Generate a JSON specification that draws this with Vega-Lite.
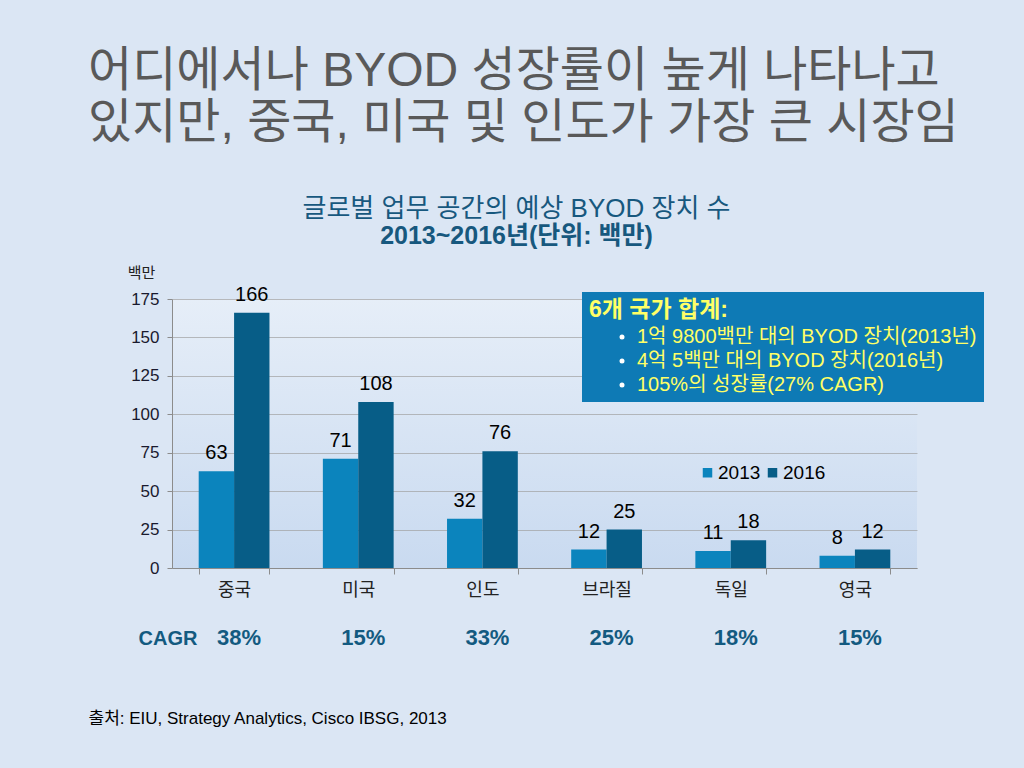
{
  "$schema": "https://vega.github.io/schema/vega-lite/v6.json",
  "padding": {"left": 88, "top": 48, "right": 69, "bottom": 44},
  "background": "#dbe6f4",
  "config": {
    "font": "Liberation Sans, Noto Sans CJK KR",
    "view": {"stroke": null},
    "concat": {"spacing": 24}
  },
  "datasets": {
    "bars": [
      {"country": "중국", "year": "2013", "value": 63},
      {"country": "중국", "year": "2016", "value": 166},
      {"country": "미국", "year": "2013", "value": 71},
      {"country": "미국", "year": "2016", "value": 108},
      {"country": "인도", "year": "2013", "value": 32},
      {"country": "인도", "year": "2016", "value": 76},
      {"country": "브라질", "year": "2013", "value": 12},
      {"country": "브라질", "year": "2016", "value": 25},
      {"country": "독일", "year": "2013", "value": 11},
      {"country": "독일", "year": "2016", "value": 18},
      {"country": "영국", "year": "2013", "value": 8},
      {"country": "영국", "year": "2016", "value": 12}
    ],
    "cagr": [
      {"row": "CAGR", "country": "중국", "cagr": "38%"},
      {"row": "CAGR", "country": "미국", "cagr": "15%"},
      {"row": "CAGR", "country": "인도", "cagr": "33%"},
      {"row": "CAGR", "country": "브라질", "cagr": "25%"},
      {"row": "CAGR", "country": "독일", "cagr": "18%"},
      {"row": "CAGR", "country": "영국", "cagr": "15%"}
    ],
    "notes": [
      {"note": "1억 9800백만 대의 BYOD 장치(2013년)"},
      {"note": "4억 5백만 대의 BYOD 장치(2016년)"},
      {"note": "105%의 성장률(27% CAGR)"}
    ]
  },
  "title": {
    "text": ["어디에서나 BYOD 성장률이 높게 나타나고", "있지만, 중국, 미국 및 인도가 가장 큰 시장임"],
    "anchor": "start",
    "frame": "group",
    "fontSize": 48,
    "fontWeight": "normal",
    "color": "#595959",
    "lineHeight": 52,
    "dx": -84,
    "offset": 48
  },
  "vconcat": [
    {
      "width": 745,
      "height": 269,
      "view": {
        "stroke": null,
        "fill": {"gradient": "linear", "x1": 0, "y1": 0, "x2": 0, "y2": 1,
          "stops": [{"offset": 0, "color": "#e6eef8"}, {"offset": 1, "color": "#c9daf0"}]}
      },
      "title": {
        "text": "글로벌 업무 공간의 예상 BYOD 장치 수",
        "subtitle": "2013~2016년(단위: 백만)",
        "anchor": "middle",
        "dx": -28,
        "fontSize": 26,
        "fontWeight": "normal",
        "color": "#17587e",
        "subtitleFontSize": 25,
        "subtitleFontWeight": "bold",
        "subtitleColor": "#17587e",
        "subtitlePadding": 2,
        "offset": 16
      },
      "layer": [
        {
          "data": {"name": "bars"},
          "mark": {"type": "bar"},
          "encoding": {
            "x": {
              "field": "country", "type": "nominal",
              "sort": ["중국", "미국", "인도", "브라질", "독일", "영국"],
              "scale": {"paddingInner": 0.43, "paddingOuter": 0.215},
              "axis": {
                "title": null, "labelAngle": 0, "labelFontSize": 18, "labelColor": "#222222",
                "tickBand": "extent", "tickSize": 6, "tickColor": "#8c8c8c",
                "domainColor": "#8c8c8c", "labelPadding": 7, "grid": false
              }
            },
            "xOffset": {"field": "year", "type": "nominal", "scale": {"paddingInner": 0}},
            "y": {
              "field": "value", "type": "quantitative",
              "scale": {"domain": [0, 175], "nice": false},
              "axis": {
                "values": [0, 25, 50, 75, 100, 125, 150, 175],
                "title": "백만", "titleAngle": 0, "titleX": -31, "titleY": -27,
                "titleAlign": "center", "titleBaseline": "middle",
                "titleFontSize": 15, "titleFontWeight": "normal", "titleColor": "#222222",
                "labelFontSize": 17, "labelColor": "#1a1a2e", "labelPadding": 8,
                "tickSize": 5, "tickColor": "#8c8c8c", "domainColor": "#8c8c8c",
                "gridColor": "#a0a0a0", "gridWidth": 0.7
              }
            },
            "color": {
              "field": "year", "type": "nominal",
              "scale": {"range": ["#0b84bd", "#075d87"]},
              "legend": {
                "title": null, "orient": "none", "legendX": 526, "legendY": 164,
                "direction": "horizontal", "labelFontSize": 19, "labelColor": "#000000",
                "symbolType": "square", "symbolSize": 90, "symbolStrokeWidth": 0,
                "columnPadding": 2, "labelOffset": 1
              }
            }
          }
        },
        {
          "data": {"name": "bars"},
          "mark": {"type": "text", "fontSize": 20, "color": "#000000", "dy": -18},
          "encoding": {
            "x": {"field": "country", "type": "nominal", "sort": ["중국", "미국", "인도", "브라질", "독일", "영국"]},
            "xOffset": {"field": "year", "type": "nominal"},
            "y": {"field": "value", "type": "quantitative", "scale": {"domain": [0, 175], "nice": false}, "axis": {"values": [0, 25, 50, 75, 100, 125, 150, 175]}},
            "text": {"field": "value", "type": "quantitative"}
          }
        },
        {
          "data": {"name": "notes"},
          "mark": {"type": "point", "filled": true, "color": "#ffffff", "opacity": 0},
          "encoding": {
            "shape": {
              "field": "note", "type": "nominal",
              "scale": {
                "domain": ["1억 9800백만 대의 BYOD 장치(2013년)", "4억 5백만 대의 BYOD 장치(2016년)", "105%의 성장률(27% CAGR)"],
                "range": ["circle", "circle", "circle"]
              },
              "legend": {
                "title": "6개 국가 합계:", "orient": "none", "legendX": 410, "legendY": -7,
                "titleColor": "#ffff66", "titleFontSize": 23, "titleFontWeight": "bold",
                "labelColor": "#ffff66", "labelFontSize": 20, "labelLimit": 0,
                "fillColor": "#0e7ab5", "padding": 7, "symbolOffset": 23,
                "symbolSize": 25, "symbolFillColor": "#ffffff", "symbolStrokeColor": "#ffffff",
                "symbolOpacity": 1, "rowPadding": 4, "titlePadding": 5, "labelOffset": 5
              }
            }
          }
        }
      ]
    },
    {
      "width": 745,
      "height": 30,
      "data": {"name": "cagr"},
      "mark": {"type": "text", "fontSize": 22, "fontWeight": "bold", "color": "#135a80", "dx": 5},
      "encoding": {
        "x": {
          "field": "country", "type": "nominal",
          "sort": ["중국", "미국", "인도", "브라질", "독일", "영국"],
          "scale": {"paddingInner": 0.43, "paddingOuter": 0.215},
          "axis": {
            "labels": false, "ticks": false, "domain": false,
            "title": "출처: EIU, Strategy Analytics, Cisco IBSG, 2013",
            "titleX": -84, "titleY": 65, "titleAlign": "left", "titleAnchor": "start",
            "titleBaseline": "middle", "titleFontSize": 17, "titleFontWeight": "normal", "titleColor": "#000000"
          }
        },
        "y": {
          "field": "row", "type": "nominal",
          "axis": {
            "title": null, "domain": false, "ticks": false, "labelPadding": -25,
            "labelFontSize": 20, "labelFontWeight": "bold", "labelColor": "#135a80"
          }
        },
        "text": {"field": "cagr", "type": "nominal"}
      }
    }
  ]
}
